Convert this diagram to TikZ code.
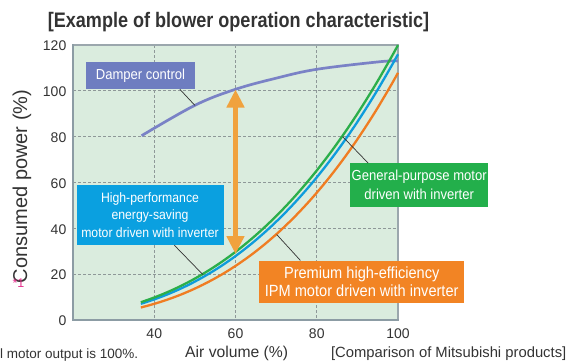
\documentclass[tikz,border=0pt]{standalone}
\usepackage{fontspec}
\setmainfont{Liberation Sans}
\newfontfamily\condfont[FakeStretch=0.9]{Liberation Sans}
\newfontfamily\titlefont[FakeStretch=0.86]{Liberation Sans}
\usetikzlibrary{arrows.meta}
\definecolor{bggreen}{HTML}{DAECDE}
\definecolor{gridc}{HTML}{8E9898}
\definecolor{framec}{HTML}{9BA7AD}
\definecolor{axisc}{HTML}{8C9CA4}
\definecolor{damperc}{HTML}{7A82C6}
\definecolor{damperbox}{HTML}{6E7DC0}
\definecolor{greenc}{HTML}{2BAE4A}
\definecolor{greenbox}{HTML}{23AF4B}
\definecolor{bluec}{HTML}{0E9CDC}
\definecolor{bluebox}{HTML}{0AA0E0}
\definecolor{orangec}{HTML}{F07D22}
\definecolor{orangebox}{HTML}{F28424}
\definecolor{arrowc}{HTML}{F0A23E}
\definecolor{textc}{HTML}{333333}
\definecolor{magc}{HTML}{E6338F}
\begin{document}
\begin{tikzpicture}[x=1pt,y=-1pt,
  lbl/.style={inner sep=0pt, text=white, align=center},
  tick/.style={font=\fontsize{14}{16}\selectfont, text=textc, inner sep=0pt},
  gridline/.style={draw=gridc, line width=0.8pt, dash pattern=on 2.5pt off 2.5pt},
  leader/.style={draw=textc, line width=0.7pt},
  curve/.style={line width=2.3pt}]
\useasboundingbox (0,0) rectangle (567,362);

% title
\node[inner sep=0pt, text=textc, font=\titlefont\bfseries\fontsize{21}{24}\selectfont] (title) at (238.5,22.5) {[Example of blower operation characteristic]};

% plot background and grid
\fill[bggreen] (73,45) rectangle (398,320);
\foreach \v in {20,40,60,80,100}
  \draw[gridline] (73,{320-2.29167*\v}) -- (398,{320-2.29167*\v});
\foreach \v in {40,60,80}
  \draw[gridline] ({73+(\v-20)*4.0625},45) -- ({73+(\v-20)*4.0625},320);
\draw[framec, line width=1.6pt] (73,45) -- (398,45) -- (398,320);
\draw[axisc, line width=2.2pt] (73,44.2) -- (73,320) -- (398.8,320);

% tick labels
\foreach \v in {0,20,40,60,80,100,120}
  \node[tick, anchor=east] (yt\v) at (66.5,{321-2.29167*\v}) {\v};
\foreach \v in {40,60,80,100}
  \node[tick] (xt\v) at ({73+(\v-20)*4.0625},333.5) {\v};

% curves
\draw[curve, line width=2.7pt, damperc] plot[smooth, tension=0.6] coordinates {(141.6,135.7) (194.9,105.3) (235.5,89.3) (276.1,78.2) (316.75,69.3) (380.1,61.7) (398,61)};
\draw[curve, orangec] plot[domain=36.7:100, samples=80, variable=\t] ({73+(\t-20)*4.0625},{320-247.27*(\t/100)^2.975});
\draw[curve, bluec] plot[domain=36.7:100, samples=80, variable=\t] ({73+(\t-20)*4.0625},{320-265.83*(\t/100)^2.79});
\draw[curve, greenc] plot[domain=36.7:100, samples=80, variable=\t] ({73+(\t-20)*4.0625},{320-275*(\t/100)^2.73});

% points on curves
\coordinate (dpt) at (195,105.5);
\coordinate (bpt) at (202.8,274.5);
\coordinate (gpt) at (342.7,136.7);
\coordinate (opt) at (276.7,234.5);
\coordinate (atop) at (235.5,89.5);
\coordinate (abot) at (235.5,254);

% double arrow
\draw[arrowc, line width=5.5pt, {Triangle[length=18pt,width=17pt]}-{Triangle[length=18pt,width=17pt]}] (atop) -- (abot);

% labels
\node[lbl, fill=damperbox, minimum width=109pt, minimum height=26.7pt, font=\condfont\fontsize{14.5}{17}\selectfont] (dbox) at (140.5,75.7) {Damper control};
\node[lbl, fill=bluebox, minimum width=147pt, minimum height=60pt, font=\condfont\fontsize{13.6}{17.2}\selectfont] (bbox) at (150,215) {High-performance\\energy-saving\\motor driven with inverter};
\node[lbl, fill=greenbox, minimum width=138.3pt, minimum height=43.4pt, font=\condfont\fontsize{14.5}{19.4}\selectfont] (gbox) at (419.2,185) {General-purpose motor\\driven with inverter};
\node[lbl, fill=orangebox, minimum width=204.7pt, minimum height=42.6pt, font=\condfont\fontsize{16.2}{18.4}\selectfont] (obox) at (361.7,282) {Premium high-efficiency\\IPM motor driven with inverter};

% leader lines
\draw[leader] ([xshift=94pt]dbox.south west) -- (dpt);
\draw[leader] ([xshift=98pt]bbox.south west) -- (bpt);
\draw[leader] ([xshift=18.3pt]gbox.north west) -- (gpt);
\draw[leader] ([xshift=41.3pt]obox.north west) -- (opt);

% axis labels
\node[inner sep=0pt, text=textc, rotate=90, font=\fontsize{20}{22}\selectfont] (ylab) at (22,186.5) {Consumed power (\%)};
\node[inner sep=0pt, text=magc, font=\fontsize{12.5}{14}\selectfont] (star) at (18.5,283.5) {*1};
\node[inner sep=0pt, text=textc, font=\fontsize{15.7}{18}\selectfont] (xlab) at (236.7,353.5) {Air volume (\%)};
\node[inner sep=0pt, text=textc, anchor=west, font=\fontsize{13.5}{16}\selectfont] (note) at (0,355) {l motor output is 100\%.};
\node[inner sep=0pt, text=textc, anchor=east, font=\fontsize{14.8}{17}\selectfont] (comp) at (566.5,353.5) {[Comparison of Mitsubishi products]};
\end{tikzpicture}
\end{document}
